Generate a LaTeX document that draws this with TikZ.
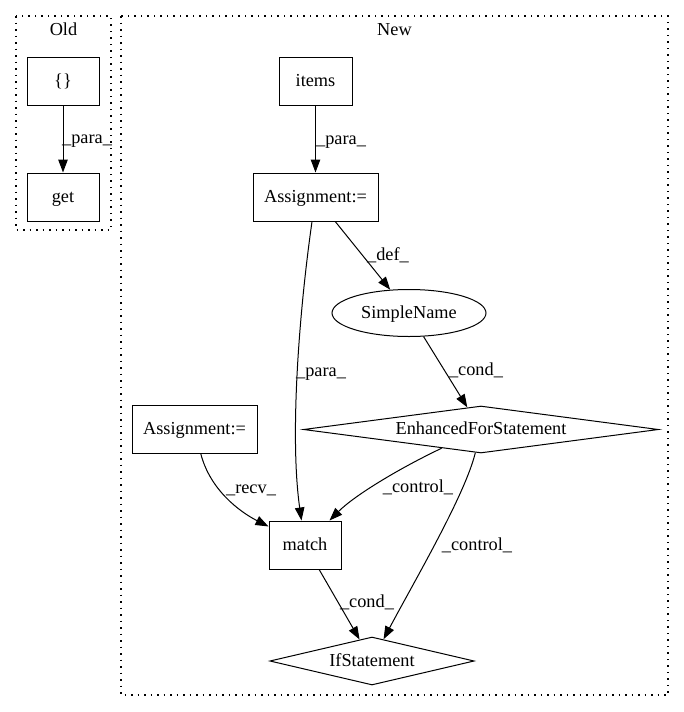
\documentclass[tikz,border=0pt]{standalone}
\usepackage{fontspec}
\setmainfont{Liberation Serif}
\usetikzlibrary{shapes.geometric,arrows.meta}
\tikzset{
  base/.style={draw, line width=1pt, inner sep=0pt, text height=13.5pt, text depth=3.5pt, font=\fontsize{18.3}{21}\selectfont},
  boxnode/.style={base, rectangle, minimum height=48pt},
  ellnode/.style={base, ellipse, minimum width=154pt, minimum height=47pt},
  dianode/.style={base, diamond, shape aspect=7},
  lbl/.style={inner sep=0pt, text height=13.5pt, text depth=3.5pt, font=\fontsize{18.3}{21}\selectfont},
  cluster/.style={line width=1.2pt, dash pattern=on 1.5pt off 5pt},
  edge/.style={line width=1pt, -{Triangle[length=13pt,width=9.5pt]}}
}
\begin{document}
\begin{tikzpicture}[x=1pt,y=-1pt]
\useasboundingbox[fill=white] (0,0) rectangle (684,712);
% clusters
\draw[cluster] (16,16) rectangle (111,230);
\node[lbl] (oldlbl) at (63.5,30) {Old};
\draw[cluster] (121,16) rectangle (668,695);
\node[lbl] (newlbl) at (394.5,30) {New};
% Old nodes
\node[boxnode, minimum width=72pt] (braces) at (63,81) {\{\}};
\node[boxnode, minimum width=72pt] (get) at (63,197) {get};
% New nodes
\node[boxnode, minimum width=73pt] (items) at (315.5,81) {items};
\node[boxnode, minimum width=125pt] (asg1) at (315.5,197) {Assignment:=};
\node[ellnode] (simple) at (409,313) {SimpleName};
\node[dianode, minimum width=355pt, minimum height=47pt] (efs) at (481,429.5) {EnhancedForStatement};
\node[boxnode, minimum width=125pt] (asg2) at (194.5,429) {Assignment:=};
\node[boxnode, minimum width=72pt] (match) at (305,545) {match};
\node[dianode, minimum width=198pt, minimum height=48pt] (ifst) at (372,661) {IfStatement};
% edges
\draw[edge] (braces) -- (get);
\draw[edge] (items) -- (asg1);
\draw[edge] (asg1) -- (simple);
\draw[edge] (simple) -- (efs);
\draw[edge] (asg1) .. controls (298,320) and (290,440) .. (match);
\draw[edge] (asg2) .. controls (210,490) and (240,512) .. (match);
\draw[edge] (efs) .. controls (400,468) and (355,495) .. (match);
\draw[edge] (efs) .. controls (465,495) and (415,580) .. (ifst);
\draw[edge] (match) -- (ifst);
% edge labels
\node[lbl] (l1) at (87,138) {\_para\_};
\node[lbl] (l2) at (341,139) {\_para\_};
\node[lbl] (l3) at (388,255) {\_def\_};
\node[lbl] (l4) at (321,371) {\_para\_};
\node[lbl] (l5) at (476,370) {\_cond\_};
\node[lbl] (l6) at (251,488) {\_recv\_};
\node[lbl] (l7) at (418,487) {\_control\_};
\node[lbl] (l8) at (477,545) {\_control\_};
\node[lbl] (l9) at (367,602) {\_cond\_};
\end{tikzpicture}
\end{document}
